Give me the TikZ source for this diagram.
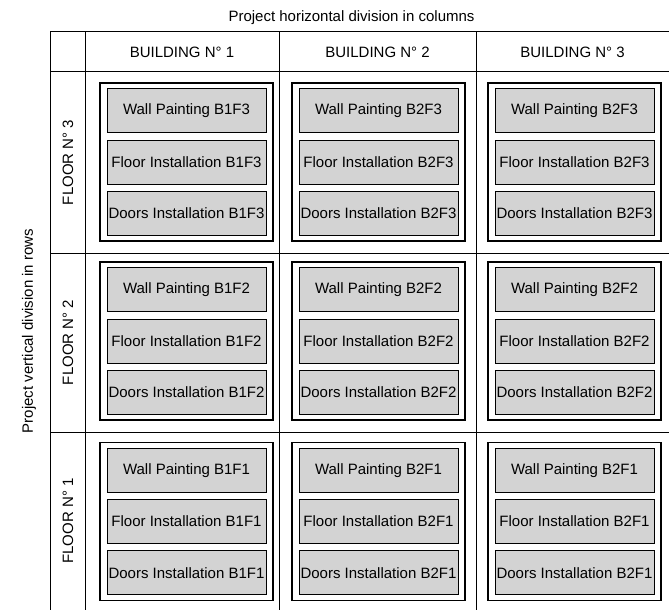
\documentclass[tikz,border=0pt]{standalone}
\usepackage{fontspec}
\setmainfont{Liberation Sans}
\usepackage{xcolor}
\usepackage{tikz}
\usetikzlibrary{positioning}

\definecolor{taskgray}{RGB}{211,211,211}

\tikzset{
  grid line/.style={line width=1pt},
  cellframe/.style={draw, line width=1.3pt, minimum width=173pt, minimum height=158pt, inner sep=0pt},
  task/.style={draw, line width=0.8pt, fill=taskgray, minimum width=159pt, minimum height=44pt, inner sep=0pt},
}

\begin{document}
\begin{tikzpicture}[x=1pt, y=-1pt, font=\fontsize{15}{18}\selectfont]
\useasboundingbox (0,0) rectangle (669,610);

% Titles of the two divisions
\node (coltitle) at (351.5,18) {Project horizontal division in columns};
\node[rotate=90] (rowtitle) at (29,331) {Project vertical division in rows};

% Table lines
\draw[grid line] (50,32) -- (669,32);
\draw[grid line] (50,72) -- (669,72);
\draw[grid line] (50,253) -- (669,253);
\draw[grid line] (50,432) -- (669,432);
\draw[grid line] (50,32) -- (50,610);
\draw[grid line] (85,32) -- (85,610);
\draw[grid line] (279,32) -- (279,610);
\draw[grid line] (476,32) -- (476,610);

% Column headers
\node (bld1) at (182,52) {BUILDING N° 1};
\node (bld2) at (377.5,52) {BUILDING N° 2};
\node (bld3) at (572.5,52) {BUILDING N° 3};

% Row headers
\node[rotate=90] (flr3) at (68,162.5) {FLOOR N° 3};
\node[rotate=90] (flr2) at (68,342.5) {FLOOR N° 2};
\node[rotate=90] (flr1) at (68,521) {FLOOR N° 1};

% Floor 3
\begin{scope}[shift={(186.5,162)}]
\node[cellframe] (frame13) at (0,0) {};
\node[task] (floor13) at (0,0) {Floor Installation B1F3};
\node[task, above=6.5pt of floor13] (wall13) {Wall Painting B1F3};
\node[task, below=6.5pt of floor13] (doors13) {Doors Installation B1F3};
\end{scope}
\begin{scope}[shift={(378.5,162)}]
\node[cellframe] (frame23) at (0,0) {};
\node[task] (floor23) at (0,0) {Floor Installation B2F3};
\node[task, above=6.5pt of floor23] (wall23) {Wall Painting B2F3};
\node[task, below=6.5pt of floor23] (doors23) {Doors Installation B2F3};
\end{scope}
\begin{scope}[shift={(574.5,162)}]
\node[cellframe] (frame33) at (0,0) {};
\node[task] (floor33) at (0,0) {Floor Installation B2F3};
\node[task, above=6.5pt of floor33] (wall33) {Wall Painting B2F3};
\node[task, below=6.5pt of floor33] (doors33) {Doors Installation B2F3};
\end{scope}

% Floor 2
\begin{scope}[shift={(186.5,341)}]
\node[cellframe] (frame12) at (0,0) {};
\node[task] (floor12) at (0,0) {Floor Installation B1F2};
\node[task, above=6.5pt of floor12] (wall12) {Wall Painting B1F2};
\node[task, below=6.5pt of floor12] (doors12) {Doors Installation B1F2};
\end{scope}
\begin{scope}[shift={(378.5,341)}]
\node[cellframe] (frame22) at (0,0) {};
\node[task] (floor22) at (0,0) {Floor Installation B2F2};
\node[task, above=6.5pt of floor22] (wall22) {Wall Painting B2F2};
\node[task, below=6.5pt of floor22] (doors22) {Doors Installation B2F2};
\end{scope}
\begin{scope}[shift={(574.5,341)}]
\node[cellframe] (frame32) at (0,0) {};
\node[task] (floor32) at (0,0) {Floor Installation B2F2};
\node[task, above=6.5pt of floor32] (wall32) {Wall Painting B2F2};
\node[task, below=6.5pt of floor32] (doors32) {Doors Installation B2F2};
\end{scope}

% Floor 1
\begin{scope}[shift={(186.5,521.5)}]
\node[cellframe] (frame11) at (0,0) {};
\node[task] (floor11) at (0,0) {Floor Installation B1F1};
\node[task, above=6.5pt of floor11] (wall11) {Wall Painting B1F1};
\node[task, below=6.5pt of floor11] (doors11) {Doors Installation B1F1};
\end{scope}
\begin{scope}[shift={(378.5,521.5)}]
\node[cellframe] (frame21) at (0,0) {};
\node[task] (floor21) at (0,0) {Floor Installation B2F1};
\node[task, above=6.5pt of floor21] (wall21) {Wall Painting B2F1};
\node[task, below=6.5pt of floor21] (doors21) {Doors Installation B2F1};
\end{scope}
\begin{scope}[shift={(574.5,521.5)}]
\node[cellframe] (frame31) at (0,0) {};
\node[task] (floor31) at (0,0) {Floor Installation B2F1};
\node[task, above=6.5pt of floor31] (wall31) {Wall Painting B2F1};
\node[task, below=6.5pt of floor31] (doors31) {Doors Installation B2F1};
\end{scope}

\end{tikzpicture}
\end{document}
